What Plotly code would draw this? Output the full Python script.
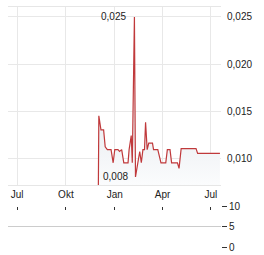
import plotly.graph_objects as go

dates = ["2022-12-01", "2022-12-02", "2022-12-06", "2022-12-11", "2022-12-14", "2022-12-18",
         "2022-12-25", "2022-12-29", "2023-01-01", "2023-01-07", "2023-01-10", "2023-01-14",
         "2023-01-18", "2023-01-26", "2023-01-28", "2023-02-01", "2023-02-03", "2023-02-07",
         "2023-02-09", "2023-02-14", "2023-02-17", "2023-02-20", "2023-02-23", "2023-02-26",
         "2023-02-28", "2023-03-03", "2023-03-06", "2023-03-13", "2023-03-15", "2023-03-23",
         "2023-03-26", "2023-03-29", "2023-04-07", "2023-04-10", "2023-04-15", "2023-04-18",
         "2023-04-29", "2023-05-02", "2023-05-06", "2023-06-03", "2023-06-06", "2023-07-18"]
prices = [0.0060, 0.0145, 0.0130, 0.0130, 0.0112, 0.0109,
          0.0109, 0.0095, 0.0109, 0.0109, 0.0107, 0.0109,
          0.0095, 0.0095, 0.0109, 0.0124, 0.0095, 0.0250,
          0.0080, 0.0100, 0.0107, 0.0095, 0.0109, 0.0109,
          0.0138, 0.0109, 0.0116, 0.0116, 0.0109, 0.0109,
          0.0103, 0.0095, 0.0095, 0.0109, 0.0109, 0.0095,
          0.0095, 0.0089, 0.0110, 0.0110, 0.0105, 0.0105]

tick_dates = ["2022-07-01", "2022-10-01", "2023-01-01", "2023-04-01", "2023-07-01"]
tick_labels = ["Jul", "Okt", "Jan", "Apr", "Jul"]
price_ticks = [0.010, 0.015, 0.020, 0.025]
vol_ticks = [0, 5, 10]
x_range = ["2022-06-14", "2023-07-20"]
y_range = [0.00713, 0.02606]

FONT = "Liberation Sans, Arial, sans-serif"
TXT = "#222222"
RED = "#c0393b"

fig = go.Figure()
fig.add_trace(go.Scatter(
    x=dates, y=prices, mode="lines",
    line=dict(color=RED, width=1.2),
    fill="tozeroy",
    fillcolor="#f1f3f6",
    fillgradient=dict(type="vertical",
                      colorscale=[[0, "#fbfcfd"], [1, "#eef1f4"]],
                      start=0.0071, stop=0.0125),
    xaxis="x", yaxis="y", hoverinfo="skip", showlegend=False))

# invisible trace for volume panel
fig.add_trace(go.Scatter(x=[dates[0]], y=[0], mode="markers", marker=dict(opacity=0),
                         xaxis="x2", yaxis="y2", showlegend=False, hoverinfo="skip"))

imax = prices.index(max(prices))
imin = prices.index(min(prices[1:]))
fig.add_annotation(x=dates[imax], y=prices[imax], text=f"{prices[imax]:.3f}".replace(".", ","),
                   showarrow=False, xanchor="right", yanchor="middle", xshift=-6,
                   font=dict(family=FONT, size=10, color=TXT))
fig.add_annotation(x=dates[imin], y=prices[imin], text=f"{prices[imin]:.3f}".replace(".", ","),
                   showarrow=False, xanchor="right", yanchor="middle", xshift=-5,
                   font=dict(family=FONT, size=10, color=TXT))

fig.update_layout(
    width=264, height=255,
    margin=dict(l=8, r=43, t=7, b=8, autoexpand=False),
    paper_bgcolor="white", plot_bgcolor="white",
    separators=", ",
    font=dict(family=FONT, size=10, color=TXT),
    xaxis=dict(range=x_range, domain=[0, 1], anchor="y", automargin=False,
               tickvals=tick_dates, ticktext=tick_labels,
               showgrid=True, gridcolor="#e8e8e8", gridwidth=1,
               showline=True, mirror=True, linecolor="#e6e6e6",
               ticks="", zeroline=False),
    yaxis=dict(range=y_range, domain=[0.258, 1], side="right", anchor="x", automargin=False,
               tickvals=price_ticks, tickformat=".3f",
               showgrid=True, gridcolor="#e8e8e8",
               ticks="outside", ticklen=3, tickcolor="rgba(0,0,0,0)",
               zeroline=False, showline=False),
    xaxis2=dict(range=x_range, domain=[0, 1], anchor="y2", side="top", automargin=False,
                tickvals=tick_dates, showticklabels=False,
                ticks="inside", ticklen=3, tickcolor="#333",
                showgrid=False, showline=False, zeroline=False),
    yaxis2=dict(range=[0, 10], domain=[0, 0.1667], side="right", anchor="x2", automargin=False,
                tickvals=vol_ticks, showgrid=True, gridcolor="#cccccc",
                ticks="outside", ticklen=5, tickcolor="#333",
                zeroline=False, showline=False),
)

fig.write_html("out.html")
